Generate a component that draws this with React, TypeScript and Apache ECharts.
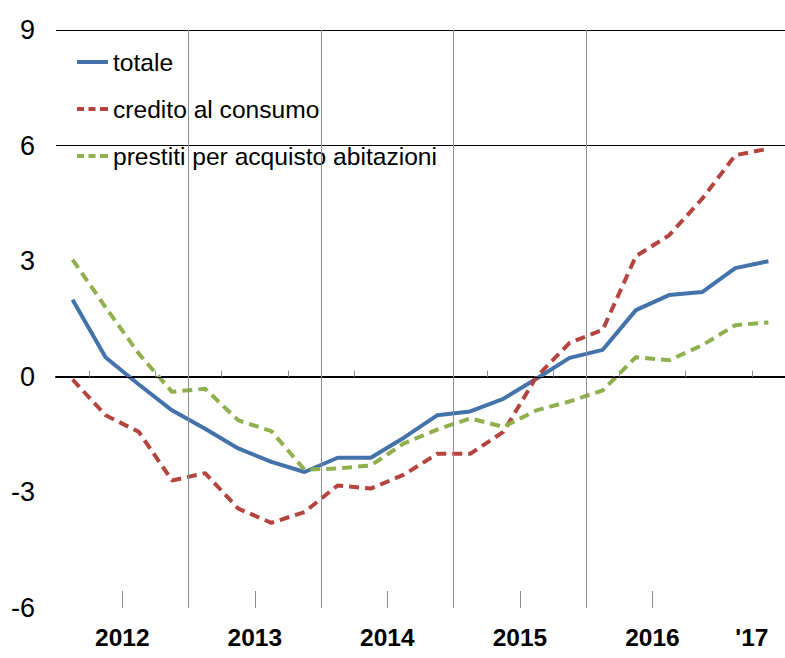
import React, { useEffect, useRef } from "react";
import * as echarts from "echarts";

// Quarterly observations, 2012Q1 .. 2017Q2
const quarters = [
  "2012Q1", "2012Q2", "2012Q3", "2012Q4",
  "2013Q1", "2013Q2", "2013Q3", "2013Q4",
  "2014Q1", "2014Q2", "2014Q3", "2014Q4",
  "2015Q1", "2015Q2", "2015Q3", "2015Q4",
  "2016Q1", "2016Q2", "2016Q3", "2016Q4",
  "2017Q1", "2017Q2",
];
const totale = [2.0, 0.5, -0.2, -0.87, -1.35, -1.86, -2.21, -2.47, -2.1, -2.1, -1.58, -1.0, -0.9, -0.57, -0.05, 0.49, 0.7, 1.73, 2.12, 2.2, 2.82, 3.0];
const credito = [-0.07, -1.0, -1.43, -2.69, -2.5, -3.42, -3.79, -3.51, -2.82, -2.9, -2.54, -2.0, -2.0, -1.43, 0.0, 0.88, 1.22, 3.13, 3.67, 4.62, 5.75, 5.92];
const prestiti = [3.04, 1.8, 0.6, -0.39, -0.31, -1.13, -1.41, -2.41, -2.38, -2.3, -1.73, -1.37, -1.08, -1.3, -0.87, -0.64, -0.35, 0.51, 0.43, 0.82, 1.34, 1.41];

const seriesNames = ["totale", "credito al consumo", "prestiti per acquisto abitazioni"];
// x-axis labels placed at the middle of each year's span (in quarter units)
const yearLabels = ["2012", "2013", "2014", "2015", "2016", "'17"];
const yearLabelPos = [2, 6, 10, 14, 18, 21];
const yearBoundaries = [4, 8, 12, 16];
const midYearTicks = [2, 6, 10, 14, 18];
const quarterTicks = [1, 3, 5, 7, 9, 13, 15, 17, 19, 21];
const refLines = [0, 6, 9];

const FONT = "'Liberation Sans', Arial, sans-serif";
const BLUE = "#4472AA";
const RED = "#B5443F";
const GREEN = "#8FB04C";

const SOLID_ICON = "path://M0,0h31v4h-31z";
const DASH_ICON = "path://M0,0h7v4h-7z M11.5,0h7v4h-7z M23,0h8v4h-8z";

const toPairs = (vals: number[]) => vals.map((v, i) => [i + 0.5, v]);

export default function App() {
  const ref = useRef<HTMLDivElement>(null);
  useEffect(() => {
    if (!ref.current) return;
    const chart = echarts.init(ref.current, null, { renderer: "svg" });
    const labelMap: Record<number, string> = {};
    yearLabelPos.forEach((p, i) => (labelMap[p] = yearLabels[i]));
    chart.setOption({
      animation: false,
      backgroundColor: "#fff",
      grid: { left: 56, right: 0, top: 30, bottom: 50, containLabel: false },
      legend: {
        orient: "vertical",
        left: 72,
        top: 37,
        padding: [10, 6, 8, 5],
        backgroundColor: "#fff",
        itemWidth: 31,
        itemHeight: 4,
        itemGap: 17,
        textStyle: { fontFamily: FONT, fontSize: 24.6, color: "#000", lineHeight: 30 },
        data: [
          { name: seriesNames[0], icon: SOLID_ICON },
          { name: seriesNames[1], icon: DASH_ICON },
          { name: seriesNames[2], icon: DASH_ICON },
        ],
      },
      xAxis: [
        {
          type: "value",
          min: 0,
          max: quarters.length,
          position: "bottom",
          axisLine: { show: true, lineStyle: { color: "#000", width: 2 } },
          axisTick: {
            show: true,
            inside: true,
            length: 6,
            customValues: quarterTicks,
            lineStyle: { color: "#8c8c8c", width: 1 },
          },
          axisLabel: {
            show: true,
            customValues: yearLabelPos,
            formatter: (v: number) => labelMap[v] ?? "",
            fontFamily: FONT,
            fontSize: 24.5,
            fontWeight: "bold",
            color: "#000",
            margin: 17,
          },
          splitLine: { show: false },
        },
        {
          type: "value",
          min: 0,
          max: quarters.length,
          position: "bottom",
          axisLine: { show: false },
          axisTick: {
            show: true,
            inside: true,
            length: 17,
            customValues: midYearTicks,
            lineStyle: { color: "#8c8c8c", width: 1 },
          },
          axisLabel: { show: false },
          splitLine: { show: false },
        },
      ],
      yAxis: {
        type: "value",
        min: -6,
        max: 9,
        interval: 3,
        axisLine: { show: false },
        axisTick: { show: false },
        splitLine: { show: false },
        axisLabel: { fontFamily: FONT, fontSize: 27, color: "#000", margin: 21 },
      },
      series: [
        {
          name: "_ref",
          type: "line",
          data: [],
          silent: true,
          markLine: {
            silent: true,
            symbol: "none",
            label: { show: false },
            data: [
              ...refLines.map((y) => ({ yAxis: y, lineStyle: { color: "#000", width: 1, type: "solid" } })),
              ...yearBoundaries.map((x) => ({ xAxis: x, lineStyle: { color: "#8c8c8c", width: 1, type: "solid" } })),
            ],
          },
        },
        {
          name: seriesNames[0],
          type: "line",
          data: toPairs(totale),
          showSymbol: false,
          symbol: "none",
          lineStyle: { color: BLUE, width: 4 },
          itemStyle: { color: BLUE },
        },
        {
          name: seriesNames[1],
          type: "line",
          data: toPairs(credito),
          showSymbol: false,
          symbol: "none",
          lineStyle: { color: RED, width: 4, type: [10, 6] },
          itemStyle: { color: RED },
        },
        {
          name: seriesNames[2],
          type: "line",
          data: toPairs(prestiti),
          showSymbol: false,
          symbol: "none",
          lineStyle: { color: GREEN, width: 4, type: [10, 6] },
          itemStyle: { color: GREEN },
        },
      ],
    });
    return () => chart.dispose();
  }, []);
  return (
    <div
      ref={ref}
      style={{ position: "fixed", left: 0, top: 0, width: 785, height: 658 }}
    />
  );
}
